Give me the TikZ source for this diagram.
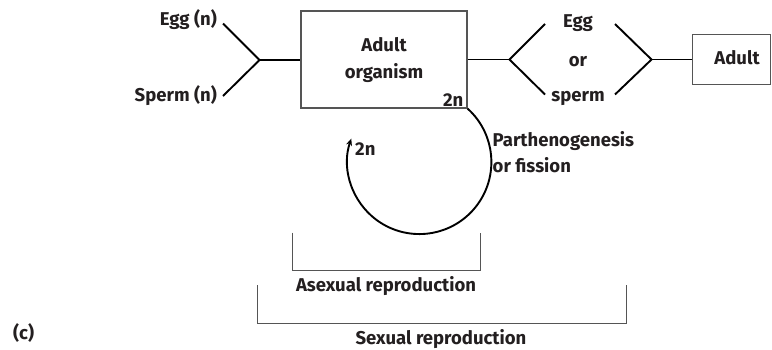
\documentclass[tikz,border=0pt]{standalone}
\usepackage{fontspec}
\setmainfont{Fira Sans}
\usetikzlibrary{arrows.meta}
\definecolor{ink}{HTML}{231F20}
\definecolor{rule}{HTML}{555555}
\tikzset{
  lbl/.style={inner sep=0pt, text=ink, font=\bfseries\fontsize{18.6}{22}\selectfont},
  organbox/.style={draw=rule, line width=1.1bp, fill=white, inner sep=0pt},
  link/.style={draw=black, line width=1.9bp},
  bracket/.style={draw=rule, line width=1bp},
}
\begin{document}
\begin{tikzpicture}[x=1bp, y=-1bp]
\useasboundingbox (0,0) rectangle (772,349);

% boxes
\node[organbox, minimum width=166bp, minimum height=97bp] (adult) at (384,59.5) {};
\node[organbox, minimum width=78bp, minimum height=50bp] (adult2) at (731.6,59.3) {};

% gametes entering the adult
\node[lbl, anchor=base east] (egg) at (217,25.7) {Egg (n)};
\node[lbl, anchor=base east] (sperm) at (217,101.7) {Sperm (n)};
\coordinate (eggend) at (223,23.5);
\coordinate (spermend) at (223,96);
\coordinate (fuse) at (259.5,60);
\draw[link, line join=miter] (eggend) -- (fuse) -- (spermend);
\draw[link] (fuse) -- (fuse -| adult.west);

% text inside the adult box
\node[lbl, anchor=base] (adulttxt) at (384,51.7) {Adult};
\node[lbl, anchor=base] (orgtxt) at (384,78.3) {organism};
\node[lbl, anchor=base east] (ploid) at (463.5,106.5) {2n};

% gametes produced
\coordinate (split) at (509.5,59.5);
\coordinate (up1) at (545,24);
\coordinate (dn1) at (545,94.5);
\draw[link] (adult.east |- split) -- (split);
\draw[link] (up1) -- (split) -- (dn1);
\node[lbl, anchor=base] (gegg) at (578,27.7) {Egg};
\node[lbl, anchor=base] (gor) at (578,66.7) {or};
\node[lbl, anchor=base] (gsperm) at (578,101) {sperm};
\coordinate (up2) at (615,24);
\coordinate (dn2) at (615,94.5);
\coordinate (join) at (651.5,59.5);
\draw[link] (up2) -- (join) -- (dn2);
\draw[link] (join) -- (join -| adult2.west);
\node[lbl, anchor=base] (adult2txt) at (737,64.3) {Adult};

% asexual loop
\draw[link, -{Stealth[length=7bp, width=6bp]}] (adult.south east) arc[start angle=-48, end angle=199, radius=72];
\node[lbl, anchor=base west] (loopploid) at (355,155) {2n};
\node[lbl, anchor=base west] (parth) at (492.5,146.7) {Parthenogenesis};
\node[lbl, anchor=base west] (fiss) at (492.5,172.7) {or fission};

% brackets
\draw[bracket] (292.7,232.7) -- (292.7,270) -- (480.7,270) -- (480.7,232.7);
\node[lbl, anchor=base] (asex) at (386,291.7) {Asexual reproduction};
\draw[bracket] (257.5,285) -- (257.5,323) -- (626,323) -- (626,285);
\node[lbl, anchor=base] (sex) at (441,344) {Sexual reproduction};

\node[lbl, anchor=base west] (panel) at (13,339) {(c)};
\end{tikzpicture}
\end{document}
